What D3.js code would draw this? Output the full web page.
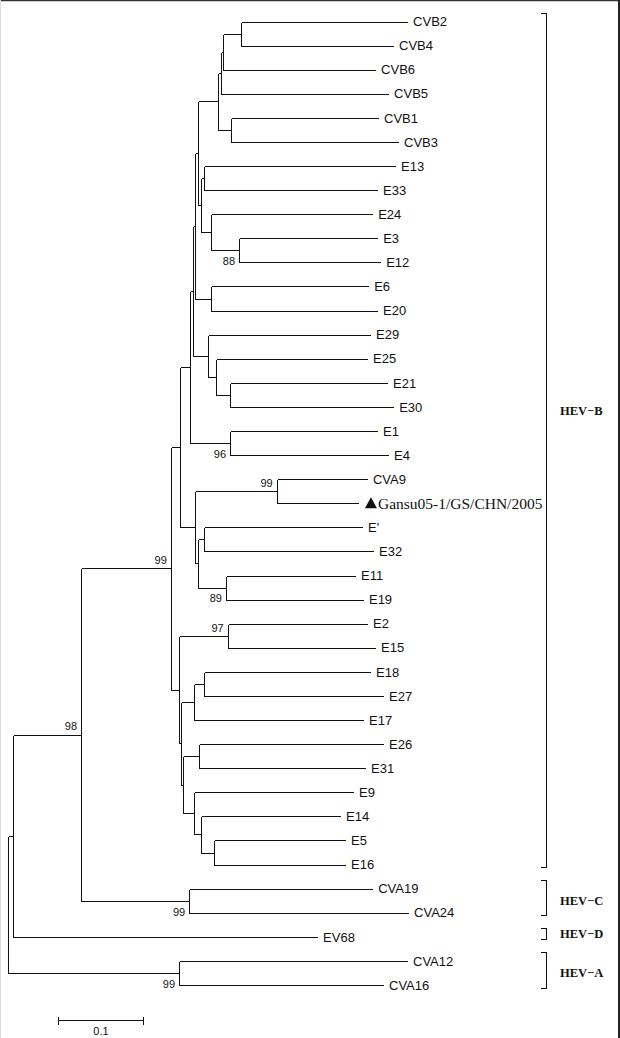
<!DOCTYPE html>
<html>
<head>
<meta charset="utf-8">
<script src="https://cdn.jsdelivr.net/npm/d3@7"></script>
<style>
  html, body { margin: 0; padding: 0; background: #fff; }
  svg { display: block; }
  .branch { stroke: #111; stroke-width: 1; fill: none; shape-rendering: crispEdges; }
  .leaf { font-family: "Liberation Sans", Arial, sans-serif; font-size: 13px; fill: #111; }
  .boot { font-family: "Liberation Sans", Arial, sans-serif; font-size: 11px; fill: #111; }
  .group { font-family: "Liberation Serif", "Times New Roman", serif; font-size: 12.5px; font-weight: bold; fill: #111; }
</style>
</head>
<body>
<div id="chart"></div>
<script>
// branches: [node, parent, branch length] - children listed top to bottom
const branches = [
  ["root", "", 0],
  ["Y", "root", 0.006],
  ["X", "Y", 0.080],
  ["B", "X", 0.1055],
  ["T", "B", 0.0109],
  ["S", "T", 0.0118],
  ["R", "S", 0.0039],
  ["Q", "R", 0.0024],
  ["P", "Q", 0.0028],
  ["N3", "P", 0.0235],
  ["N2", "N3", 0.0039],
  ["N1", "N2", 0.002],
  ["n_cvb24", "N1", 0.0215],
  ["CVB2", "n_cvb24", 0.1953],
  ["CVB4", "n_cvb24", 0.1788],
  ["CVB6", "N1", 0.1792],
  ["CVB5", "N2", 0.1965],
  ["n_cvb13", "N3", 0.0156],
  ["CVB1", "n_cvb13", 0.1729],
  ["CVB3", "n_cvb13", 0.1965],
  ["EE", "P", 0.0035],
  ["n_e1333", "EE", 0.0039],
  ["E13", "n_e1333", 0.2247],
  ["E33", "n_e1333", 0.2035],
  ["n_e24", "EE", 0.0118],
  ["E24", "n_e24", 0.1898],
  ["n_e312", "n_e24", 0.0333],
  ["E3", "n_e312", 0.1624],
  ["E12", "n_e312", 0.1659],
  ["n_e620", "Q", 0.0181],
  ["E6", "n_e620", 0.1851],
  ["E20", "n_e620", 0.1956],
  ["n_e29", "R", 0.0173],
  ["E29", "n_e29", 0.1906],
  ["n_e25", "n_e29", 0.0094],
  ["E25", "n_e25", 0.1776],
  ["n_e2130", "n_e25", 0.0165],
  ["E21", "n_e2130", 0.1847],
  ["E30", "n_e2130", 0.1918],
  ["n_e14", "S", 0.0471],
  ["E1", "n_e14", 0.1729],
  ["E4", "n_e14", 0.1859],
  ["U", "T", 0.0176],
  ["n_cva9", "U", 0.0961],
  ["CVA9", "n_cva9", 0.1062],
  ["Gansu05-1/GS/CHN/2005", "n_cva9", 0.0956],
  ["V", "U", 0.0035],
  ["n_e732", "V", 0.0071],
  ["E7", "n_e732", 0.1859],
  ["E32", "n_e732", 0.1988],
  ["n_e1119", "V", 0.0329],
  ["E11", "n_e1119", 0.1518],
  ["E19", "n_e1119", 0.1612],
  ["W", "B", 0.0101],
  ["n_e215", "W", 0.0569],
  ["E2", "n_e215", 0.1639],
  ["E15", "n_e215", 0.1733],
  ["W2", "W", 0.0016],
  ["W3", "W2", 0.016],
  ["n_e1827", "W3", 0.0118],
  ["E18", "n_e1827", 0.1949],
  ["E27", "n_e1827", 0.2102],
  ["E17", "W3", 0.1985],
  ["W4", "W2", 0.0031],
  ["n_e2631", "W4", 0.0188],
  ["E26", "n_e2631", 0.2161],
  ["E31", "n_e2631", 0.1949],
  ["n_e9", "W4", 0.0129],
  ["E9", "n_e9", 0.1867],
  ["n_e14b", "n_e9", 0.0075],
  ["E14", "n_e14b", 0.1639],
  ["n_e516", "n_e14b", 0.016],
  ["E5", "n_e516", 0.1538],
  ["E16", "n_e516", 0.1538],
  ["C", "X", 0.1271],
  ["CVA19", "C", 0.2153],
  ["CVA24", "C", 0.2576],
  ["EV68", "Y", 0.3576],
  ["A", "root", 0.2012],
  ["CVA12", "A", 0.2682],
  ["CVA16", "A", 0.24]
];

// bootstrap values: [node, value, side of the incoming branch]
const bootstrap = [
  ["X", 98, "above"],
  ["B", 99, "above"],
  ["n_e312", 88, "below"],
  ["n_e14", 96, "below"],
  ["n_cva9", 99, "above"],
  ["n_e1119", 89, "below"],
  ["n_e215", 97, "above"],
  ["C", 99, "below"],
  ["A", 99, "below"]
];

// groups: [label, first leaf, last leaf, label anchor leaves]
const groups = [
  ["HEV\u2212B", "CVB2", "E16", ["E30"]],
  ["HEV\u2212C", "CVA19", "CVA24", ["CVA19", "CVA24"]],
  ["HEV\u2212D", "EV68", "EV68", ["EV68"]],
  ["HEV\u2212A", "CVA12", "CVA16", ["CVA12", "CVA16"]]
];

const highlighted = "Gansu05-1/GS/CHN/2005";
const scaleBarValue = 0.1;

const width = 620, height = 1038;

const svg = d3.select("#chart").append("svg")
  .attr("width", width)
  .attr("height", height)
  .attr("viewBox", [0, 0, width, height]);

// frame edges seen in the picture
svg.append("line").attr("x1", 0).attr("x2", width).attr("y1", 0.5).attr("y2", 0.5)
  .attr("stroke", "#333").attr("stroke-width", 1.5);
svg.append("line").attr("x1", width - 1).attr("x2", width - 1).attr("y1", 0).attr("y2", height)
  .attr("stroke", "#222").attr("stroke-width", 2);
svg.append("line").attr("x1", 0.5).attr("x2", 0.5).attr("y1", 0).attr("y2", height)
  .attr("stroke", "#ddd");

const root = d3.stratify()
  .id(d => d[0])
  .parentId(d => d[1] || null)(branches);

// cumulative distance from the root
root.eachBefore(n => { n.dist = n.parent ? n.parent.dist + n.data[2] : 0; });

const leaves = root.leaves();
const x = d3.scaleLinear().domain([0, 1]).range([8, 858]);
const y = d3.scaleLinear().domain([0, leaves.length - 1]).range([21.5, 985]);

leaves.forEach((l, i) => { l.py = y(i); });
root.eachAfter(n => {
  if (n.children) n.py = (n.children[0].py + n.children[n.children.length - 1].py) / 2;
});
root.each(n => { n.px = x(n.dist); });

const snap = v => Math.round(v) + 0.5;
const g = svg.append("g");

// horizontal branches
g.selectAll("line.h")
  .data(root.descendants().filter(n => n.parent))
  .join("line")
  .attr("class", "branch h")
  .attr("x1", d => snap(d.parent.px))
  .attr("x2", d => snap(d.px))
  .attr("y1", d => snap(d.py))
  .attr("y2", d => snap(d.py));

// vertical connectors
g.selectAll("line.v")
  .data(root.descendants().filter(n => n.children))
  .join("line")
  .attr("class", "branch v")
  .attr("x1", d => snap(d.px))
  .attr("x2", d => snap(d.px))
  .attr("y1", d => snap(d.children[0].py))
  .attr("y2", d => snap(d.children[d.children.length - 1].py));

// leaf labels
const lab = g.selectAll("g.leaf")
  .data(leaves)
  .join("g")
  .attr("transform", d => `translate(${d.px},${d.py})`);

lab.filter(d => d.id !== highlighted)
  .append("text")
  .attr("class", "leaf")
  .attr("x", 6)
  .attr("dy", "0.36em")
  .text(d => d.id === "E7" ? "E'" : d.id);

const hl = lab.filter(d => d.id === highlighted);
hl.append("path")
  .attr("d", "M7,5 L13,-6 L19,5 Z")
  .attr("fill", "#111");
hl.append("text")
  .attr("x", 20)
  .attr("dy", "0.34em")
  .attr("font-family", "'Liberation Serif', 'Times New Roman', serif")
  .attr("font-size", 15.5)
  .attr("fill", "#111")
  .text(d => d.id);

// bootstrap values
const nodeById = new Map(root.descendants().map(n => [n.id, n]));
g.selectAll("text.boot")
  .data(bootstrap)
  .join("text")
  .attr("class", "boot")
  .attr("text-anchor", "end")
  .attr("x", d => nodeById.get(d[0]).px - 4)
  .attr("y", d => nodeById.get(d[0]).py + (d[2] === "above" ? -8 : 11))
  .attr("dy", "0.35em")
  .text(d => d[1]);

// group brackets
const leafY = new Map(leaves.map(l => [l.id, l.py]));
const bx = 546.5;
const gg = svg.selectAll("g.grp")
  .data(groups)
  .join("g");
gg.append("path")
  .attr("class", "branch")
  .attr("d", d => {
    const y0 = Math.round(leafY.get(d[1]) - 9) + 0.5;
    const y1 = Math.round(leafY.get(d[2]) + 2.5) + 0.5;
    return `M${bx - 6},${y0}H${bx}V${y1}H${bx - 6}`;
  });
gg.append("text")
  .attr("class", "group")
  .attr("x", 560)
  .attr("y", d => d3.mean(d[3], k => leafY.get(k)) + (d[3].length === 1 ? (d[0].endsWith("B") ? 4 : -3) : 0))
  .attr("dy", "0.35em")
  .text(d => d[0]);

// scale bar
const sb = svg.append("g").attr("transform", "translate(0,1020.5)");
const x0 = 58.5, x1 = x0 + (x(scaleBarValue) - x(0));
sb.append("path")
  .attr("class", "branch")
  .attr("d", `M${x0},-4V4M${x0},0H${x1}M${x1},-4V4`);
sb.append("text")
  .attr("class", "boot")
  .attr("text-anchor", "middle")
  .attr("x", (x0 + x1) / 2)
  .attr("y", 11)
  .attr("dy", "0.35em")
  .text(scaleBarValue);
</script>
</body>
</html>
